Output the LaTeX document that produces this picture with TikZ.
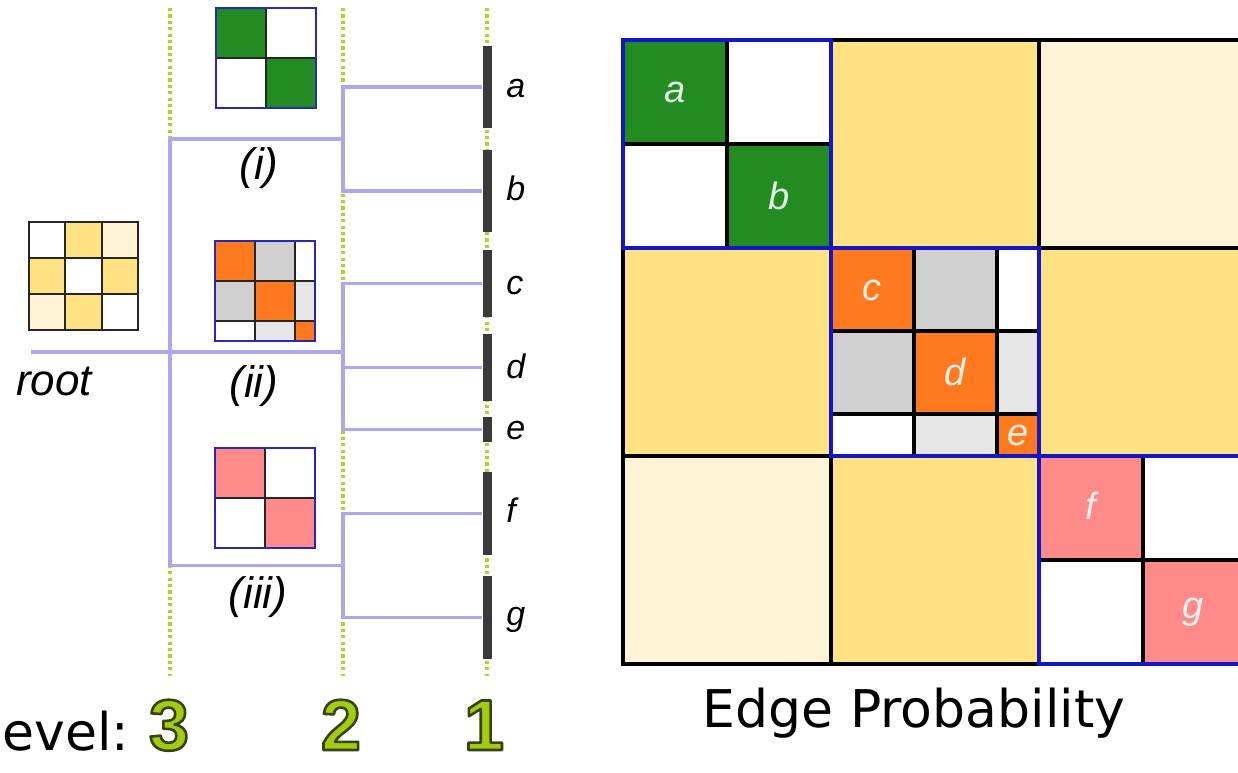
\documentclass[tikz,border=0pt]{standalone}
\usepackage{fontspec}
\setmainfont{Liberation Sans}
\newfontfamily\dejavu{DejaVu Sans}
\usetikzlibrary{calc}
\definecolor{lav}{RGB}{172,168,240}
\definecolor{dotg}{RGB}{178,210,40}
\definecolor{barc}{RGB}{58,58,58}
\definecolor{mblue}{RGB}{20,20,200}
\definecolor{sblue}{RGB}{40,40,180}
\definecolor{mgreen}{RGB}{34,139,34}
\definecolor{ylw}{RGB}{255,227,130}
\definecolor{crm}{RGB}{255,244,214}
\definecolor{org}{RGB}{255,122,30}
\definecolor{gry}{RGB}{208,208,208}
\definecolor{lgry}{RGB}{230,230,230}
\definecolor{pnk}{RGB}{255,138,138}
% outlined digit: fill green, stroke dark olive (PDF text render mode 2)
\newcommand{\outlined}[1]{\special{pdf:literal 0.64 0.80 0.06 rg 0.22 0.26 0.05 RG 2 Tr 1.3 w 1 j}#1\special{pdf:literal 0 Tr 1 w 0 j 0 g 0 G}}
\tikzset{
  lavline/.style={draw=lav, line width=1.6pt, line join=miter},
  dotline/.style={draw=dotg, line width=1.8pt, dash pattern=on 1.6pt off 1.6pt},
  leafbar/.style={rectangle, fill=barc, draw=none, minimum width=4.5pt, inner sep=0pt},
  leaflbl/.style={font=\fontsize{17}{20}\selectfont\itshape, anchor=base west, inner sep=0pt},
  grplbl/.style={font=\fontsize{22}{26}\selectfont\itshape, inner sep=0pt},
  cellbl/.style={font=\fontsize{19}{22}\selectfont\itshape, text=white, text opacity=0.88, inner sep=0pt},
  gridblk/.style={draw=black, line width=1.8pt},
  gridblu/.style={draw=mblue, line width=1.8pt},
  smallblk/.style={draw=black!85, line width=1pt},
  smallblu/.style={draw=sblue, line width=1pt},
  bigtxt/.style={font=\dejavu\fontsize{26}{30}\selectfont, inner sep=0pt},
  digitlbl/.style={font=\bfseries\fontsize{36}{40}\selectfont, inner sep=0pt, anchor=base},
}
\begin{document}
\begin{tikzpicture}[x=0.5pt,y=-0.5pt]
\useasboundingbox (0,0) rectangle (1238,772);
\clip (0,0) rectangle (1238,772);

% ---------- dotted level guides ----------
\coordinate (g3t) at (170,8);  \coordinate (g3b) at (170,676);
\coordinate (g2t) at (343,8);  \coordinate (g2b) at (343,676);
\coordinate (g1t) at (487,8);  \coordinate (g1b) at (487,676);
\draw[dotline] (g3t) -- (g3b);
\draw[dotline] (g2t) -- (g2b);
\draw[dotline] (g1t) -- (g1b);

% ---------- leaf bars ----------
\node[leafbar, minimum height=41pt]   (ba) at (487,87) {};
\node[leafbar, minimum height=41pt]   (bb) at (487,191) {};
\node[leafbar, minimum height=33.5pt] (bc) at (487,283.5) {};
\node[leafbar, minimum height=33.5pt] (bd) at (487,367.5) {};
\node[leafbar, minimum height=12.5pt] (be) at (487,429.5) {};
\node[leafbar, minimum height=41.5pt] (bf) at (487,513.5) {};
\node[leafbar, minimum height=41.5pt] (bg) at (487,617.5) {};

% ---------- junctions ----------
\coordinate (ja) at (343,87);   \coordinate (jb) at (343,191);
\coordinate (jc) at (343,283.5); \coordinate (jd) at (343,367.5); \coordinate (je) at (343,429.5);
\coordinate (jf) at (343,513.5); \coordinate (jg) at (343,617.5);
\coordinate (ji) at (343,139);  \coordinate (jii) at (343,352); \coordinate (jiii) at (343,565.5);
\coordinate (ki) at (170,139);  \coordinate (kiii) at (170,565.5);
\coordinate (rootend) at (31,352);

\draw[lavline] (ba.west) -- (ja) -- (jb) -- (bb.west);
\draw[lavline] (bc.west) -- (jc) -- (je) -- (be.west);
\draw[lavline] (jd) -- (bd.west);
\draw[lavline] (bf.west) -- (jf) -- (jg) -- (bg.west);
\draw[lavline] (ji) -- (ki) -- (kiii) -- (jiii);
\draw[lavline] (rootend) -- (jii);

% ---------- leaf labels ----------
\node[leaflbl] (la) at (506,97) {a};
\node[leaflbl] (lb) at (506,200) {b};
\node[leaflbl] (lc) at (506,294) {c};
\node[leaflbl] (ld) at (506,378) {d};
\node[leaflbl] (le) at (506,439) {e};
\node[leaflbl] (lf) at (506,522) {f};
\node[leaflbl] (lg) at (506,625) {g};

% ---------- group labels ----------
\node[grplbl] (li) at (259,168) {(i)};
\node[grplbl] (lii) at (254,386) {(ii)};
\node[grplbl] (liii) at (258,597) {(iii)};
\node[grplbl, anchor=base] (lroot) at (54,395) {root};

% ---------- root matrix ----------
\fill[ylw] (65.33,222) rectangle (101.67,258);
\fill[crm] (101.67,222) rectangle (138,258);
\fill[ylw] (29,258) rectangle (65.33,294);
\fill[ylw] (101.67,258) rectangle (138,294);
\fill[crm] (29,294) rectangle (65.33,330);
\fill[ylw] (65.33,294) rectangle (101.67,330);
\draw[smallblk] (65.33,222) -- (65.33,330) (101.67,222) -- (101.67,330)
  (29,258) -- (138,258) (29,294) -- (138,294);
\draw[smallblk] (29,222) rectangle (138,330);

% ---------- matrix (i) ----------
\fill[mgreen] (216,8) rectangle (266,58);
\fill[mgreen] (266,58) rectangle (316,108);
\draw[smallblk] (266,8) -- (266,108) (216,58) -- (316,58);
\draw[smallblu] (216,8) rectangle (316,108);

% ---------- matrix (ii) ----------
\fill[org] (215,241) rectangle (255,281);
\fill[gry] (255,241) rectangle (295,281);
\fill[gry] (215,281) rectangle (255,321);
\fill[org] (255,281) rectangle (295,321);
\fill[lgry] (295,281) rectangle (315,321);
\fill[lgry] (255,321) rectangle (295,341);
\fill[org] (295,321) rectangle (315,341);
\draw[smallblk] (255,241) -- (255,341) (295,241) -- (295,341)
  (215,281) -- (315,281) (215,321) -- (315,321);
\draw[smallblu] (215,241) rectangle (315,341);

% ---------- matrix (iii) ----------
\fill[pnk] (215,448) rectangle (265,498);
\fill[pnk] (265,498) rectangle (315,548);
\draw[smallblk] (265,448) -- (265,548) (215,498) -- (315,498);
\draw[smallblu] (215,448) rectangle (315,548);

% ---------- big matrix ----------
\fill[mgreen] (623,40) rectangle (727,144);
\fill[mgreen] (727,144) rectangle (831,248);
\fill[ylw] (831,40) rectangle (1039,248);
\fill[crm] (1039,40) rectangle (1247,248);
\fill[ylw] (623,248) rectangle (831,456);
\fill[org] (831,248) rectangle (914,331);
\fill[gry] (914,248) rectangle (997,331);
\fill[gry] (831,331) rectangle (914,414);
\fill[org] (914,331) rectangle (997,414);
\fill[lgry] (997,331) rectangle (1039,414);
\fill[lgry] (914,414) rectangle (997,456);
\fill[org] (997,414) rectangle (1039,456);
\fill[ylw] (1039,248) rectangle (1247,456);
\fill[crm] (623,456) rectangle (831,664);
\fill[ylw] (831,456) rectangle (1039,664);
\fill[pnk] (1039,456) rectangle (1143,560);
\fill[pnk] (1143,560) rectangle (1247,664);

\draw[gridblk] (831,40) -- (831,664) (1039,40) -- (1039,664)
  (623,248) -- (1247,248) (623,456) -- (1247,456)
  (727,40) -- (727,248) (623,144) -- (831,144)
  (914,248) -- (914,456) (997,248) -- (997,456)
  (831,331) -- (1039,331) (831,414) -- (1039,414)
  (1143,456) -- (1143,664) (1039,560) -- (1247,560);
\draw[gridblk] (623,40) rectangle (1247,664);
\draw[gridblu] (623,40) rectangle (831,248);
\draw[gridblu] (831,248) rectangle (1039,456);
\draw[gridblu] (1039,456) rectangle (1247,664);

\node[cellbl] (ca) at (675,92) {a};
\node[cellbl] (cb) at (779,196) {b};
\node[cellbl] (cc) at (872,290) {c};
\node[cellbl] (cd) at (955,372) {d};
\node[cellbl] (ce) at (1018,435) {e};
\node[cellbl] (cf) at (1091,506) {f};
\node[cellbl] (cg) at (1193,612) {g};

% ---------- captions ----------
\node[bigtxt, anchor=base] (cap) at (914,727) {Edge Probability};
\node[bigtxt, anchor=base west] (lvl) at (2,750) {evel:};

\node[digitlbl] (lvthree) at (169,750) {\outlined{3}};
\node[digitlbl] (lvtwo) at (341,750) {\outlined{2}};
\node[digitlbl] (lvone) at (484,750) {\outlined{1}};
\end{tikzpicture}
\end{document}
